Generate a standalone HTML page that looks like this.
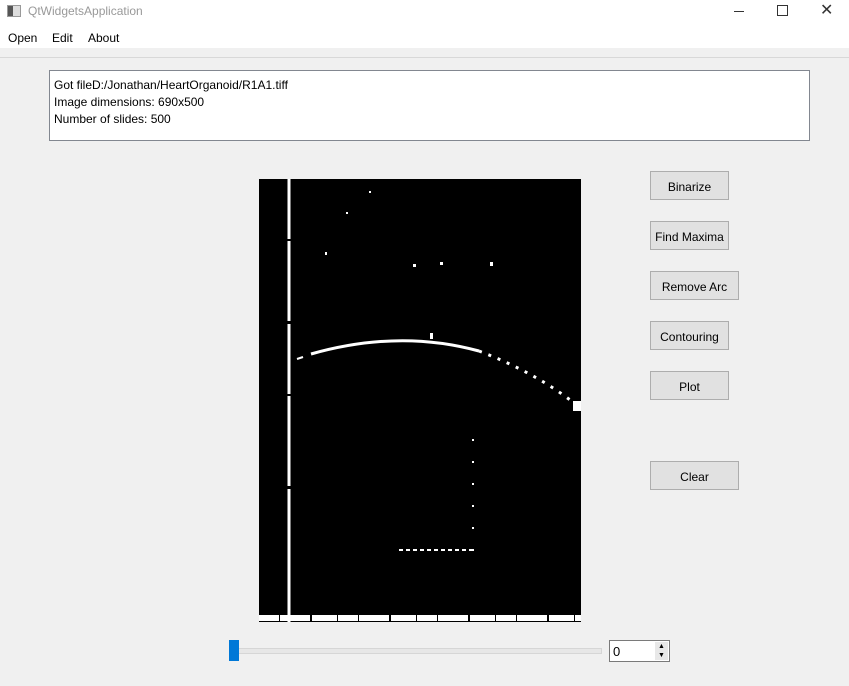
<!DOCTYPE html>
<html><head><meta charset="utf-8"><style>
body{margin:0;width:849px;height:686px;background:#f0f0f0;font-family:"Liberation Sans",sans-serif;font-size:12px;color:#000;position:relative;overflow:hidden}
.abs{position:absolute}
.btn{position:absolute;background:#e1e1e1;border:1px solid #adadad;box-sizing:border-box;text-align:center;font-size:12px;color:#000}
</style></head><body>
<div class="abs" style="left:0;top:0;width:849px;height:23px;background:#fff">
 <div class="abs" style="left:7px;top:5px;width:12px;height:10px;border:1px solid #999;background:#ddd"><div style="width:5px;height:10px;background:#555"></div></div>
 <div class="abs" style="left:28px;top:4px;font-size:12px;color:#999">QtWidgetsApplication</div>
 <div class="abs" style="left:734px;top:11px;width:10px;height:1px;background:#333"></div>
 <div class="abs" style="left:777px;top:5px;width:9px;height:9px;border:1px solid #333"></div>
 <div class="abs" style="left:820px;top:0px;font-size:16px;color:#333">✕</div>
</div>
<div class="abs" style="left:0;top:23px;width:849px;height:25px;background:#fff">
 <span class="abs" style="left:8px;top:8px">Open</span>
 <span class="abs" style="left:52px;top:8px">Edit</span>
 <span class="abs" style="left:88px;top:8px">About</span>
</div>
<div class="abs" style="left:0;top:48px;width:849px;height:9px;background:#f0f0f0;border-bottom:1px solid #d8d8d8"></div>
<div class="abs" style="left:49px;top:70px;width:761px;height:71px;background:#fff;border:1px solid #828790;box-sizing:border-box;padding:6px 4px;line-height:17px">
Got fileD:/Jonathan/HeartOrganoid/R1A1.tiff<br>Image dimensions: 690x500<br>Number of slides: 500</div>
<svg class="abs" style="left:259px;top:179px" width="322" height="443" viewBox="0 0 322 443">
 <rect width="322" height="443" fill="#000"/>
 <path d="M30 0 V443" stroke="#fff" stroke-width="3" stroke-dasharray="60 2 80 3 70 2 90 3 200"/>
 <path d="M52 175 Q140 150 220 172" stroke="#fff" stroke-width="3" fill="none"/>
 <path d="M220 172 Q280 195 320 228" stroke="#fff" stroke-width="3" fill="none" stroke-dasharray="3 7"/>
 <path d="M38 180 L44 178" stroke="#fff" stroke-width="2"/>
 <rect x="314" y="222" width="8" height="10" fill="#fff"/>
 <path d="M0 439 H322" stroke="#fff" stroke-width="6" stroke-dasharray="20 1 30 2 25 1"/>
 <rect x="171" y="154" width="3" height="6" fill="#fff"/>
 <rect x="154" y="85" width="3" height="3" fill="#fff"/><rect x="181" y="83" width="3" height="3" fill="#fff"/>
 <rect x="231" y="83" width="3" height="4" fill="#fff"/><rect x="66" y="73" width="2" height="3" fill="#fff"/>
 <rect x="87" y="33" width="2" height="2" fill="#fff"/><rect x="110" y="12" width="2" height="2" fill="#fff"/>
 <path d="M214 260 V380" stroke="#fff" stroke-width="2" stroke-dasharray="2 20"/>
 <path d="M140 371 H214" stroke="#fff" stroke-width="2" stroke-dasharray="4 3"/>
</svg>
<div class="btn" style="left:650px;top:171px;width:79px;height:29px;line-height:30px">Binarize</div>
<div class="btn" style="left:650px;top:221px;width:79px;height:29px;line-height:30px">Find Maxima</div>
<div class="btn" style="left:650px;top:271px;width:89px;height:29px;line-height:30px">Remove Arc</div>
<div class="btn" style="left:650px;top:321px;width:79px;height:29px;line-height:30px">Contouring</div>
<div class="btn" style="left:650px;top:371px;width:79px;height:29px;line-height:30px">Plot</div>
<div class="btn" style="left:650px;top:461px;width:89px;height:29px;line-height:30px">Clear</div>
<div class="abs" style="left:229px;top:648px;width:371px;height:4px;background:#e7e7e7;border:1px solid #d6d6d6"></div>
<div class="abs" style="left:229px;top:640px;width:10px;height:21px;background:#0078d7"></div>
<div class="abs" style="left:609px;top:640px;width:61px;height:22px;background:#fff;border:1px solid #7a7a7a;box-sizing:border-box">
 <span class="abs" style="left:3px;top:3px;font-size:13px">0</span>
 <div class="abs" style="left:45px;top:1px;width:13px;height:9px;background:#e8e8e8;font-size:7px;text-align:center;line-height:9px">▲</div>
 <div class="abs" style="left:45px;top:10px;width:13px;height:9px;background:#e8e8e8;font-size:7px;text-align:center;line-height:9px">▼</div>
</div>
</body></html>
